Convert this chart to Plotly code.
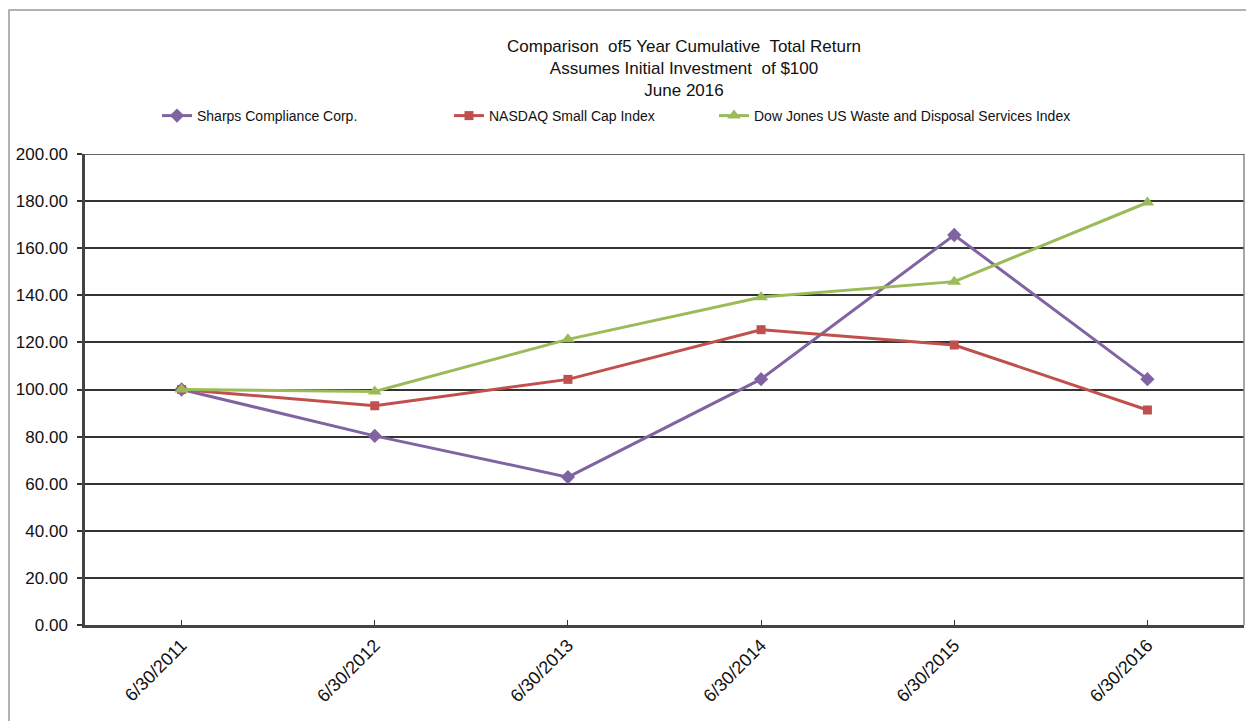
import plotly.graph_objects as go

categories = ["6/30/2011", "6/30/2012", "6/30/2013", "6/30/2014", "6/30/2015", "6/30/2016"]
sharps = [100.00, 80.3, 62.8, 104.4, 165.6, 104.4]
nasdaq = [100.00, 93.1, 104.3, 125.4, 118.9, 91.3]
dowjones = [100.00, 99.2, 121.3, 139.2, 145.8, 179.4]
y_ticks = [0, 20, 40, 60, 80, 100, 120, 140, 160, 180, 200]

series_names = ["Sharps Compliance Corp.", "NASDAQ Small Cap Index",
                "Dow Jones US Waste and Disposal Services Index"]

title_lines = ["Comparison  of5 Year Cumulative  Total Return",
               "Assumes Initial Investment  of $100",
               "June 2016"]

FONT = "Liberation Sans, Arial, sans-serif"

W, H = 1246, 721
L, R, T, B = 85, 2, 154, 96
pw, ph = W - L - R, H - T - B

def px_x(p):
    return (p - L) / pw

def px_y(p):
    return (H - B - p) / ph

fig = go.Figure()
fig.add_trace(go.Scatter(x=categories, y=sharps, name=series_names[0], mode="lines+markers",
                         line=dict(color="#8064A2", width=3),
                         marker=dict(symbol="diamond", size=11, color="#8064A2"),
                         legend="legend"))
fig.add_trace(go.Scatter(x=categories, y=nasdaq, name=series_names[1], mode="lines+markers",
                         line=dict(color="#C0504D", width=3),
                         marker=dict(symbol="square", size=9, color="#C0504D"),
                         legend="legend2"))
fig.add_trace(go.Scatter(x=categories, y=dowjones, name=series_names[2], mode="lines+markers",
                         line=dict(color="#9BBB59", width=3),
                         marker=dict(symbol="triangle-up", size=12, color="#9BBB59"),
                         legend="legend3"))

leg_common = dict(orientation="h", yanchor="middle", xanchor="left",
                  font=dict(family=FONT, size=14, color="#111"),
                  bgcolor="rgba(0,0,0,0)", itemwidth=30)
fig.update_layout(
    legend=dict(x=px_x(157), y=px_y(116), **leg_common),
    legend2=dict(x=px_x(449), y=px_y(116), **leg_common),
    legend3=dict(x=px_x(714), y=px_y(116), **leg_common),
)

fig.add_annotation(text="<br>".join(title_lines), xref="paper", yref="paper",
                   x=px_x(684), y=px_y(68), xanchor="center", yanchor="middle",
                   showarrow=False, font=dict(family=FONT, size=17, color="#111"))

# outer chart border (left and top visible)
fig.add_shape(type="rect", xref="paper", yref="paper",
              x0=px_x(9), y0=px_y(760), x1=px_x(1290), y1=px_y(10),
              line=dict(color="#999999", width=1.5), layer="below")
# right plot-area border
fig.add_shape(type="line", xref="paper", yref="paper", x0=1, x1=1, y0=0, y1=1,
              line=dict(color="#888888", width=1.5))
# top gridline (200) at the plot edge
fig.add_shape(type="line", xref="paper", yref="y", x0=0, x1=1, y0=200, y1=200,
              line=dict(color="#333333", width=1.5))

fig.update_xaxes(type="category", range=[-0.5, len(categories) - 0.5],
                 showgrid=False, showline=True, linecolor="#444", linewidth=2.5,
                 ticks="inside", ticklen=5, tickcolor="#333", tickwidth=1,
                 tickangle=-45, tickfont=dict(family=FONT, size=18, color="#111"))
fig.update_yaxes(range=[0, 200], tickvals=y_ticks, tickformat=".2f",
                 showgrid=True, gridcolor="#333333", gridwidth=1.5,
                 showline=True, linecolor="#444", linewidth=2.5,
                 ticks="outside", ticklen=5, tickcolor="#333", tickwidth=1.5,
                 ticklabelstandoff=6, zeroline=False,
                 tickfont=dict(family=FONT, size=17, color="#111"))

fig.update_layout(width=W, height=H, margin=dict(l=L, r=R, t=T, b=B, autoexpand=False),
                  paper_bgcolor="white", plot_bgcolor="white", showlegend=True)

fig.write_html("out.html", config={"displayModeBar": False},
               post_script="document.body.style.margin='0';document.body.style.overflow='hidden';")
